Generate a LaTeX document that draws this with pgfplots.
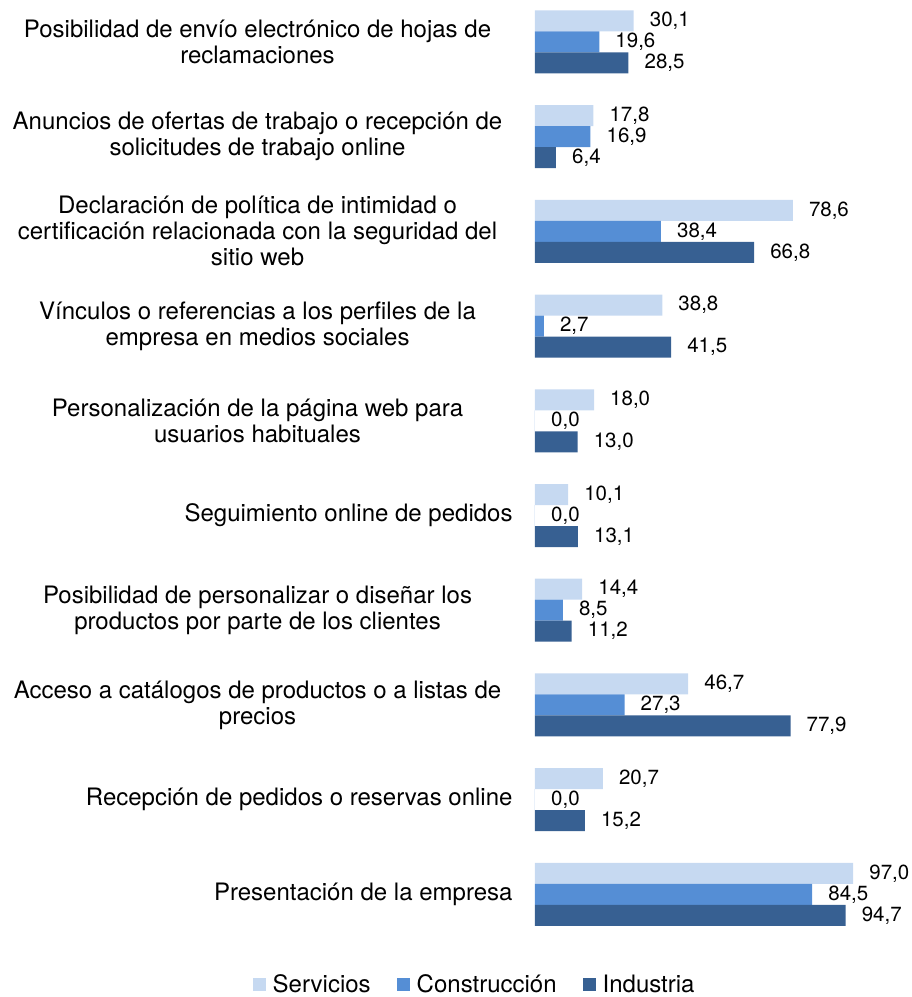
\documentclass[border=0pt]{standalone}
\usepackage{pgfplots}
\pgfplotsset{compat=1.18}
\usepackage{fontspec}
\setmainfont{TeX Gyre Heros}
\definecolor{serv}{HTML}{C6D9F1}
\definecolor{cons}{HTML}{558ED5}
\definecolor{ind}{HTML}{376092}
\newcommand{\ml}[1]{\parbox[c]{500pt}{\centering #1}\hspace*{5pt}}
\begin{document}
\begin{tikzpicture}
\begin{axis}[
  xbar, scale only axis, width=328pt, height=941.7pt,
  xmin=0, xmax=100, ymin=-0.5, ymax=9.4435,
  bar width=21pt, clip=false,
  axis line style={draw=none}, tick style={draw=none},
  xtick=\empty,
  ytick={0,...,9},
  yticklabels={
    {Presentación de la empresa},
    {Recepción de pedidos o reservas online},
    {\ml{Acceso a catálogos de productos o a listas de\\precios}},
    {\ml{Posibilidad de personalizar o diseñar los\\productos por parte de los clientes}},
    {Seguimiento online de pedidos},
    {\ml{Personalización de la página web para\\usuarios habituales}},
    {\ml{Vínculos o referencias a los perfiles de la\\empresa en medios sociales}},
    {\ml{Declaración de política de intimidad o\\certificación relacionada con la seguridad del\\sitio web}},
    {\ml{Anuncios de ofertas de trabajo o recepción de\\solicitudes de trabajo online}},
    {\ml{Posibilidad de envío electrónico de hojas de\\reclamaciones}}},
  yticklabel style={font=\fontsize{24}{26}\selectfont, inner sep=0pt, xshift=-18pt},
  /pgf/number format/.cd, use comma, fixed, fixed zerofill, precision=1, assume math mode=true,
  /pgfplots/.cd,
  nodes near coords,
  nodes near coords style={font=\fontsize{20.5}{24}\selectfont, inner sep=0pt, xshift=16pt, anchor=west},
  legend columns=3,
  legend style={at={(-0.184,-0.0455)}, anchor=center, draw=none, inner sep=0pt,
    nodes={inner ysep=0pt},
    font=\fontsize{24}{26}\selectfont,
    /tikz/every odd column/.append style={column sep=5pt},
    /tikz/every even column/.append style={column sep=24pt}},
  legend image code/.code={\fill[#1] (0pt,-6.5pt) rectangle (13pt,6.5pt);},
]
\addplot[fill=serv, draw=none, bar shift=21pt] coordinates {(97.0,0)(20.7,1)(46.7,2)(14.4,3)(10.1,4)(18.0,5)(38.8,6)(78.6,7)(17.8,8)(30.1,9)};
\addplot[fill=cons, draw=none, bar shift=0pt] coordinates {(84.5,0)(0.0,1)(27.3,2)(8.5,3)(0.0,4)(0.0,5)(2.7,6)(38.4,7)(16.9,8)(19.6,9)};
\addplot[fill=ind, draw=none, bar shift=-21pt] coordinates {(94.7,0)(15.2,1)(77.9,2)(11.2,3)(13.1,4)(13.0,5)(41.5,6)(66.8,7)(6.4,8)(28.5,9)};
\legend{Servicios, Construcción, Industria}
\end{axis}
\path (current axis.south west) ++(-535pt,-55.3pt);
\path (current axis.north east) ++(49pt,0pt);
\end{tikzpicture}
\end{document}
